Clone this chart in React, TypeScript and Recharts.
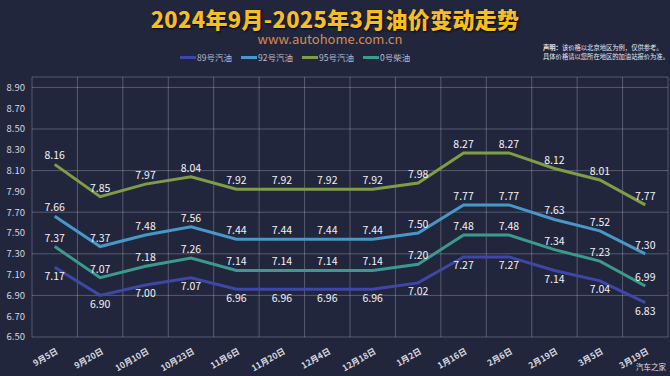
import React from "react";
import { LineChart, Line, XAxis, YAxis, CartesianGrid, Legend, LabelList } from "recharts";

const dates = ["9月5日", "9月20日", "10月10日", "10月23日", "11月6日", "11月20日", "12月4日", "12月18日", "1月2日", "1月16日", "2月6日", "2月19日", "3月5日", "3月19日"];
const gas89 = [7.17, 6.90, 7.00, 7.07, 6.96, 6.96, 6.96, 6.96, 7.02, 7.27, 7.27, 7.14, 7.04, 6.83];
const gas92 = [7.66, 7.37, 7.48, 7.56, 7.44, 7.44, 7.44, 7.44, 7.50, 7.77, 7.77, 7.63, 7.52, 7.30];
const gas95 = [8.16, 7.85, 7.97, 8.04, 7.92, 7.92, 7.92, 7.92, 7.98, 8.27, 8.27, 8.12, 8.01, 7.77];
const diesel0 = [7.37, 7.07, 7.18, 7.26, 7.14, 7.14, 7.14, 7.14, 7.20, 7.48, 7.48, 7.34, 7.23, 6.99];
const yTicks = [6.5, 6.7, 6.9, 7.1, 7.3, 7.5, 7.7, 7.9, 8.1, 8.3, 8.5, 8.7, 8.9];

const data = dates.map((d, i) => ({ date: d, g89: gas89[i], g92: gas92[i], g95: gas95[i], d0: diesel0[i] }));

const FONT = '"Noto Sans CJK SC", "Noto Sans", sans-serif';
const BG = "#22263d";
const GRID = "rgba(220,225,240,0.28)";

const W = 670;
const H = 376;
const Y_AXIS_W = 32;
const RIGHT = 2;
const plotW = W - Y_AXIS_W - RIGHT;
const halfBand = plotW / dates.length / 2;

const series = [
  { key: "g89", name: "89号汽油", color: "#3f47a6", pos: "bottom" },
  { key: "g92", name: "92号汽油", color: "#4798c6", pos: "top" },
  { key: "g95", name: "95号汽油", color: "#7f9d46", pos: "top" },
  { key: "d0", name: "0号柴油", color: "#3a9a8c", pos: "top" },
];

const XTick = (props: any) => {
  const { x, y, payload } = props;
  return (
    <g transform={`translate(${x + 4},${y + 10}) rotate(-30)`}>
      <text x={0} y={0} textAnchor="end" fontSize={8.5} fontWeight={600} fill="#d4d6de" fontFamily={FONT}>
        {payload.value}
      </text>
    </g>
  );
};

const LegendContent = () => (
  <div style={{ position: "relative", left: 180, display: "flex", alignItems: "center", fontFamily: FONT, fontSize: 8.5, color: "#b8bccb" }}>
    {series.map((s) => (
      <div key={s.key} style={{ display: "flex", alignItems: "center", width: 61 }}>
        <span style={{ display: "inline-block", width: 16, height: 3, background: s.color, marginRight: 1 }} />
        <span>{s.name}</span>
      </div>
    ))}
  </div>
);

export default function App() {
  return (
    <div style={{ position: "absolute", left: 0, top: 0, width: W, height: H, background: BG, overflow: "hidden", fontFamily: FONT }}>
      <div style={{ position: "absolute", left: 0, top: 5, width: W, textAlign: "center", fontSize: 22, fontWeight: 900, color: "#f6be1e", textShadow: "1px 1px 2px #000", letterSpacing: 0.3, lineHeight: "26px" }}>
        2024年9月-2025年3月油价变动走势
      </div>
      <div style={{ position: "absolute", left: -5, top: 31, width: W, textAlign: "center", fontSize: 13, color: "#d88a4c", lineHeight: "15px" }}>
        www.autohome.com.cn
      </div>
      <div style={{ position: "absolute", left: 543, top: 43, width: 127, fontSize: 6.3, color: "#e8e8ee", lineHeight: "9px", whiteSpace: "nowrap" }}>
        <div><b>声明：</b>该价格以北京地区为例，仅供参考。</div>
        <div>具体价格请以您所在地区的加油站报价为准。</div>
      </div>
      <div style={{ position: "absolute", left: 636, top: 361, fontSize: 7.5, color: "#e0e0e8", whiteSpace: "nowrap" }}>汽车之家</div>
      <LineChart width={W} height={H} data={data} margin={{ top: 65, right: RIGHT, bottom: 0, left: 0 }} style={{ position: "absolute", left: 0, top: 0 }}>
        <CartesianGrid
          stroke={GRID}
          strokeWidth={1}
          verticalCoordinatesGenerator={(p: any) => {
            const off = p.offset;
            return Array.from({ length: dates.length + 1 }, (_, i) => off.left + (i * off.width) / dates.length);
          }}
        />
        <XAxis dataKey="date" axisLine={false} tickLine={false} tickSize={0} tickMargin={6} interval={0} tick={<XTick />} height={39} padding={{ left: halfBand, right: halfBand }} />
        <YAxis domain={[6.5, 9.0]} ticks={yTicks} axisLine={false} tickLine={false} tickSize={0} tickMargin={7} width={Y_AXIS_W} tick={{ fill: "#d4d6de", fontSize: 9.5, fontFamily: FONT }} tickFormatter={(v: number) => v.toFixed(2)} />
        <Legend verticalAlign="top" wrapperStyle={{ top: 51, left: 0, width: W }} content={<LegendContent />} />
        {series.map((s) => (
          <Line key={s.key} type="linear" dataKey={s.key} name={s.name} stroke={s.color} strokeWidth={3} dot={false} isAnimationActive={false}>
            <LabelList dataKey={s.key} position={s.pos as any} fill="#f2f2f6" fontSize={10.5} fontFamily={FONT} formatter={(v: number) => v.toFixed(2)} />
          </Line>
        ))}
      </LineChart>
    </div>
  );
}
